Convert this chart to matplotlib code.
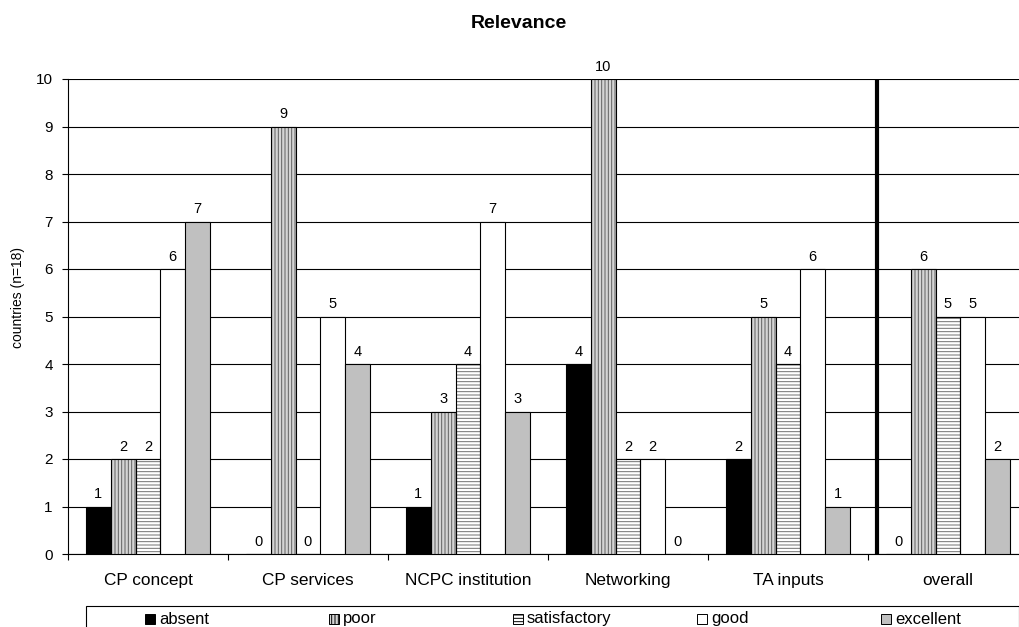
import numpy as np
import matplotlib
matplotlib.use("Agg")
import matplotlib.pyplot as plt
from matplotlib.patches import Rectangle

plt.rcParams['font.family'] = ['Liberation Sans', 'DejaVu Sans']
plt.rcParams['hatch.linewidth'] = 0.7

categories = ['CP concept', 'CP services', 'NCPC institution', 'Networking', 'TA inputs', 'overall']
absent = [1, 0, 1, 4, 2, 0]
poor = [2, 9, 3, 10, 5, 6]
satisfactory = [2, 0, 4, 2, 4, 5]
good = [6, 5, 7, 2, 6, 5]
excellent = [7, 4, 3, 0, 1, 2]

series = [
    ('absent', absent, 'black', '', 'black'),
    ('poor', poor, '#d4d4d4', '|||||', '#606060'),
    ('satisfactory', satisfactory, 'white', '-----', '#707070'),
    ('good', good, 'white', '', 'black'),
    ('excellent', excellent, '#c0c0c0', '', 'black'),
]

W, H = 1020, 627
fig = plt.figure(figsize=(W / 100, H / 100), dpi=100)
ax = fig.add_axes([68 / W, (H - 554) / H, 960 / W, 475 / H])

x = np.arange(len(categories))
bw = 0.155
for i, (name, vals, fc, hatch, hc) in enumerate(series):
    pos = x + (i - 2) * bw
    if hatch:
        ax.bar(pos, vals, bw, color=fc, edgecolor=hc, hatch=hatch, linewidth=0, zorder=3)
        ax.bar(pos, vals, bw, fill=False, edgecolor='black', linewidth=0.8, zorder=4)
    else:
        ax.bar(pos, vals, bw, color=fc, edgecolor='black', linewidth=0.8, zorder=3)
    for p, v in zip(pos, vals):
        ax.annotate(str(v), (p, v), xytext=(0, 6), textcoords='offset points',
                    ha='center', va='baseline', fontsize=10.5)

# separator before the overall group
ax.plot([4.556, 4.556], [0, 10], color='black', linewidth=3, zorder=5, solid_capstyle='butt')

ax.set_xlim(-0.5, 5.5)
ax.set_ylim(0, 10)
ax.set_yticks(range(0, 11))
ax.tick_params(axis='y', labelsize=11, length=4, pad=7)
ax.yaxis.grid(True, color='black', linewidth=0.8, zorder=0)
ax.set_axisbelow(True)

ax.set_xticks(np.arange(-0.5, 6, 1))
ax.set_xticklabels([])
ax.tick_params(axis='x', which='major', length=4)
ax.set_xticks(x, minor=True)
ax.set_xticklabels(categories, minor=True, fontsize=12.4)
ax.tick_params(axis='x', which='minor', length=0, pad=14)

for s in ['top', 'right']:
    ax.spines[s].set_visible(False)
ax.spines['left'].set_linewidth(0.8)
ax.spines['bottom'].set_linewidth(0.8)

ax.set_ylabel('countries (n=18)', fontsize=10)
ax.yaxis.set_label_coords(-0.045, 0.54)
fig.text(519 / W, 1 - 23 / H, 'Relevance', ha='center', va='center', fontsize=14, fontweight='bold')

# legend box along the bottom
fig.patches.append(Rectangle((86 / W, 1 - 640 / H), (1019 - 86) / W, (640 - 606) / H,
                             transform=fig.transFigure, fill=False, edgecolor='black',
                             linewidth=0.8, clip_on=False))
for i, (name, vals, fc, hatch, hc) in enumerate(series):
    mx = 145 + i * 184
    fig.patches.append(Rectangle((mx / W, 1 - 624 / H), 10 / W, 10 / H, transform=fig.transFigure,
                                 facecolor=fc, edgecolor='black', hatch=hatch, linewidth=0.7))
    fig.text((mx + 14) / W, 1 - 619 / H, name, ha='left', va='center', fontsize=12)

fig.savefig('out.png', dpi=100)
